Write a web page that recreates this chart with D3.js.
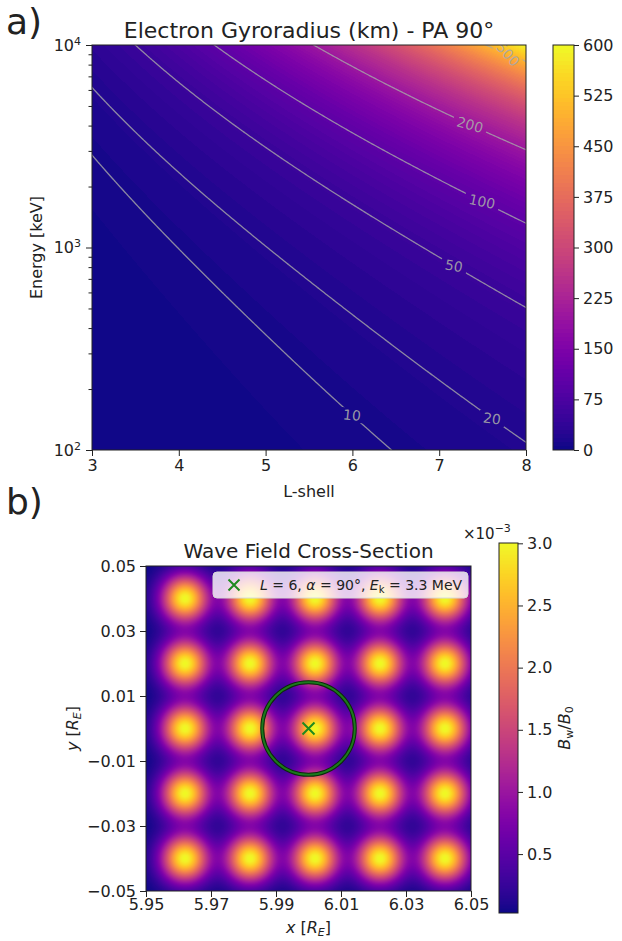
<!DOCTYPE html>
<html>
<head>
<meta charset="utf-8">
<script src="https://cdn.jsdelivr.net/npm/d3@7"></script>
<style>
  body { margin: 0; background: #fff; }
  svg text { font-family: "DejaVu Sans", sans-serif; fill: #222; }
</style>
</head>
<body>
<svg id="fig" width="622" height="941"></svg>
<script>
// ---- panel a data ----
var lShellRange = [3, 8];
var energyRange = [100, 10000];          // keV
var contourLevels = [10, 20, 50, 100, 200, 500];   // km
var lShellTicks = [3, 4, 5, 6, 7, 8];
var energyTicks = [100, 1000, 10000];
var gyroTicks = [0, 75, 150, 225, 300, 375, 450, 525, 600];
var gyroBandStep = 6;                      // contourf level spacing (km)

// dipole field + electron constants used for the gyroradius map
var B0 = 3.0e-5;        // T, equatorial surface field
var cLight = 2.998e8;   // m/s
var mec2 = 0.511;       // MeV
var earthRadiusKm = 6371;

// ---- panel b data ----
var blobX = [5.962, 5.982, 6.002, 6.022, 6.042];
var blobY = [-0.04, -0.02, 0, 0.02, 0.04];
var blobAmp = 3.0e-3;
var blobWidth = 0.005;
var waveXTicks = [5.95, 5.97, 5.99, 6.01, 6.03, 6.05];
var waveYTicks = [-0.05, -0.03, -0.01, 0.01, 0.03, 0.05];
var waveCbarTicks = [0.5, 1.0, 1.5, 2.0, 2.5, 3.0];   // x1e-3
var particleL = 6;
var particlePitch = 90;
var particleEnergyMeV = 3.3;

// label placement along each contour (L value) and text angle
var labelAtL = [6.0, 7.6, 7.18, 7.49, 7.35, 7.8];
var labelRot = [6, 8, 10, 12, 16, 48];

function gyroKm(L, EkeV) {
  var E = EkeV / 1000;
  var pc = Math.sqrt(E * E + 2 * E * mec2);           // MeV
  var B = B0 / Math.pow(L, 3);
  return pc * 1e6 / (cLight * B) / 1000;
}
function waveField(x, y) {
  var s = 0;
  blobX.forEach(function (bx) {
    blobY.forEach(function (by) {
      var dx = x - bx, dy = y - by;
      s += Math.exp(-(dx * dx + dy * dy) / (2 * blobWidth * blobWidth));
    });
  });
  return blobAmp * s;
}

var svg = d3.select("#fig");

function raster(g, x0, y0, w, h, colorAt) {
  var cv = document.createElement("canvas");
  cv.width = w; cv.height = h;
  var ctx = cv.getContext("2d");
  var img = ctx.createImageData(w, h);
  for (var j = 0; j < h; j++) {
    for (var i = 0; i < w; i++) {
      var c = colorAt(x0 + i + 0.5, y0 + j + 0.5);
      var k = (j * w + i) * 4;
      img.data[k] = c.r; img.data[k + 1] = c.g; img.data[k + 2] = c.b; img.data[k + 3] = 255;
    }
  }
  ctx.putImageData(img, 0, 0);
  g.append("image")
    .attr("x", x0).attr("y", y0).attr("width", w).attr("height", h)
    .attr("preserveAspectRatio", "none")
    .attr("href", cv.toDataURL());
}

function styleAxis(g) {
  g.select(".domain").remove();
  g.selectAll(".tick line").attr("stroke", "#222");
  g.selectAll(".tick text").attr("font-size", 16).attr("font-family", "DejaVu Sans").attr("fill", "#222");
}

// ================= panel a =================
var pa = {left: 92, right: 526, top: 45, bottom: 450};
var xA = d3.scaleLinear().domain(lShellRange).range([pa.left, pa.right]);
var yA = d3.scaleLog().domain(energyRange).range([pa.bottom, pa.top]);
var cA = d3.scaleSequential(d3.interpolatePlasma).domain([gyroTicks[0], gyroTicks[gyroTicks.length - 1]]);

var nBands = Math.round((gyroTicks[gyroTicks.length - 1] - gyroTicks[0]) / gyroBandStep);
var bandColors = d3.range(nBands).map(function (b) {
  return d3.rgb(cA(gyroTicks[0] + (b + 0.5) * gyroBandStep));
});
function bandColor(v) {
  var b = Math.floor((v - gyroTicks[0]) / gyroBandStep);
  return bandColors[Math.max(0, Math.min(nBands - 1, b))];
}

var gA = svg.append("g");
raster(gA, pa.left, pa.top, pa.right - pa.left, pa.bottom - pa.top, function (px, py) {
  return bandColor(gyroKm(xA.invert(px), yA.invert(py)));
});

// contour lines through d3.contours on a padded pixel grid
var step = 2, pad = 6;
var gx0 = pa.left - pad, gy0 = pa.top - pad;
var nx = Math.ceil((pa.right - pa.left + 2 * pad) / step) + 1;
var ny = Math.ceil((pa.bottom - pa.top + 2 * pad) / step) + 1;
var grid = new Array(nx * ny);
for (var j = 0; j < ny; j++) for (var i = 0; i < nx; i++) {
  grid[j * nx + i] = gyroKm(xA.invert(gx0 + i * step), yA.invert(gy0 + j * step));
}
var contours = d3.contours().size([nx, ny]).thresholds(contourLevels)(grid);
function gxPix(c) { return gx0 + (c - 0.5) * step; }
function gyPix(c) { return gy0 + (c - 0.5) * step; }
var gridPath = d3.geoPath(d3.geoTransform({
  point: function (x, y) { this.stream.point(gxPix(x), gyPix(y)); }
}));

var defs = svg.append("defs");
defs.append("clipPath").attr("id", "clipA").append("rect")
  .attr("x", pa.left).attr("y", pa.top).attr("width", pa.right - pa.left).attr("height", pa.bottom - pa.top);
var mask = defs.append("mask").attr("id", "lblMask").attr("maskUnits", "userSpaceOnUse")
  .attr("x", 0).attr("y", 0).attr("width", 622).attr("height", 941);
mask.append("rect").attr("width", 622).attr("height", 941).attr("fill", "white");

var labelFs = 14;
var labels = contours.map(function (c, k) {
  var target = xA(labelAtL[k]), best = null;
  c.coordinates.forEach(function (poly) {
    poly.forEach(function (ring) {
      ring.forEach(function (p) {
        var px = gxPix(p[0]), py = gyPix(p[1]);
        if (py < pa.top || py > pa.bottom || px < pa.left || px > pa.right) return;
        var d = Math.abs(px - target);
        if (!best || d < best.d) best = {d: d, x: px, y: py};
      });
    });
  });
  return {text: String(c.value), x: best.x, y: best.y, rot: labelRot[k]};
});
labels.forEach(function (l) {
  mask.append("rect")
    .attr("x", -l.text.length * 0.64 * labelFs / 2 - 4).attr("y", -labelFs / 2)
    .attr("width", l.text.length * 0.64 * labelFs + 8).attr("height", labelFs)
    .attr("fill", "black")
    .attr("transform", "translate(" + l.x + "," + l.y + ") rotate(" + l.rot + ")");
});

var gC = gA.append("g").attr("clip-path", "url(#clipA)");
gC.append("g").attr("mask", "url(#lblMask)")
  .selectAll("path").data(contours).enter().append("path")
  .attr("d", gridPath)
  .attr("fill", "none")
  .attr("stroke", "#a8a8a8").attr("stroke-opacity", 0.8).attr("stroke-width", 1.3);
gC.selectAll("text.clabel").data(labels).enter().append("text")
  .attr("class", "clabel")
  .attr("transform", function (l) { return "translate(" + l.x + "," + l.y + ") rotate(" + l.rot + ")"; })
  .attr("text-anchor", "middle").attr("dy", "0.36em")
  .attr("font-size", labelFs)
  .style("fill", "#a8a8a8").style("fill-opacity", 0.9)
  .text(function (l) { return l.text; });

gA.append("rect")
  .attr("x", pa.left).attr("y", pa.top).attr("width", pa.right - pa.left).attr("height", pa.bottom - pa.top)
  .attr("fill", "none").attr("stroke", "#222").attr("stroke-width", 1);

var axA = gA.append("g").attr("transform", "translate(0," + pa.bottom + ")")
  .call(d3.axisBottom(xA).tickValues(lShellTicks).tickSize(6).tickPadding(4).tickFormat(d3.format("d")));
styleAxis(axA);

var ayA = gA.append("g").attr("transform", "translate(" + pa.left + ",0)")
  .call(d3.axisLeft(yA).tickValues(energyTicks).tickSize(6).tickPadding(5).tickFormat(""));
styleAxis(ayA);
ayA.selectAll(".tick text").each(function (d) {
  var t = d3.select(this).attr("dy", "0.32em");
  t.append("tspan").text("10");
  t.append("tspan").attr("dy", "-0.55em").attr("font-size", 11).text(Math.round(Math.log10(d)));
});
var minorE = [];
[100, 1000].forEach(function (dec) { for (var m = 2; m <= 9; m++) minorE.push(dec * m); });
var ayAm = gA.append("g").attr("transform", "translate(" + pa.left + ",0)")
  .call(d3.axisLeft(yA).tickValues(minorE).tickSize(3.5).tickFormat(""));
styleAxis(ayAm);

gA.append("text").attr("x", (pa.left + pa.right) / 2).attr("y", 38)
  .attr("text-anchor", "middle").attr("font-size", 22)
  .text("Electron Gyroradius (km) - PA 90°");
gA.append("text").attr("x", (pa.left + pa.right) / 2).attr("y", 497)
  .attr("text-anchor", "middle").attr("font-size", 16).text("L-shell");
gA.append("text").attr("transform", "translate(42," + (pa.top + pa.bottom) / 2 + ") rotate(-90)")
  .attr("text-anchor", "middle").attr("font-size", 16).text("Energy [keV]");
gA.append("text").attr("x", 6).attr("y", 34).attr("font-size", 36).text("a)");

// colorbar a
var cbA = {left: 553, right: 574, top: 45, bottom: 450};
var yCbA = d3.scaleLinear().domain(cA.domain()).range([cbA.bottom, cbA.top]);
raster(gA, cbA.left, cbA.top, cbA.right - cbA.left, cbA.bottom - cbA.top, function (px, py) {
  return bandColor(yCbA.invert(py));
});
gA.append("rect").attr("x", cbA.left).attr("y", cbA.top)
  .attr("width", cbA.right - cbA.left).attr("height", cbA.bottom - cbA.top)
  .attr("fill", "none").attr("stroke", "#222").attr("stroke-width", 1);
var acbA = gA.append("g").attr("transform", "translate(" + cbA.right + ",0)")
  .call(d3.axisRight(yCbA).tickValues(gyroTicks).tickSize(5).tickPadding(4).tickFormat(d3.format("d")));
styleAxis(acbA);

// ================= panel b =================
var pb = {left: 146, right: 471, top: 566, bottom: 891};
var xB = d3.scaleLinear().domain([waveXTicks[0], waveXTicks[waveXTicks.length - 1]]).range([pb.left, pb.right]);
var yB = d3.scaleLinear().domain([waveYTicks[0], waveYTicks[waveYTicks.length - 1]]).range([pb.bottom, pb.top]);

var wmin = Infinity, wmax = -Infinity;
for (var py = pb.top; py < pb.bottom; py++) for (var px = pb.left; px < pb.right; px++) {
  var v = waveField(xB.invert(px + 0.5), yB.invert(py + 0.5));
  if (v < wmin) wmin = v;
  if (v > wmax) wmax = v;
}
var lutB = d3.range(256).map(function (k) { return d3.rgb(d3.interpolatePlasma(k / 255)); });
function colorB(v) {
  var t = (v - wmin) / (wmax - wmin);
  return lutB[Math.max(0, Math.min(255, Math.round(t * 255)))];
}

var gB = svg.append("g");
raster(gB, pb.left, pb.top, pb.right - pb.left, pb.bottom - pb.top, function (px, py) {
  return colorB(waveField(xB.invert(px), yB.invert(py)));
});

// gyro-orbit of the test particle
var rhoRE = gyroKm(particleL, particleEnergyMeV * 1000) / earthRadiusKm;
var cx = xB(particleL), cy = yB(0), rPix = xB(particleL + rhoRE) - xB(particleL);
gB.append("circle").attr("cx", cx).attr("cy", cy).attr("r", rPix)
  .attr("fill", "none").attr("stroke", "#0b2a0b").attr("stroke-width", 4);
gB.append("circle").attr("cx", cx).attr("cy", cy).attr("r", rPix)
  .attr("fill", "none").attr("stroke", "#1c7a1c").attr("stroke-width", 2);

function xMarker(g, x, y, s) {
  g.append("path")
    .attr("d", "M" + (x - s) + "," + (y - s) + "L" + (x + s) + "," + (y + s) + "M" + (x - s) + "," + (y + s) + "L" + (x + s) + "," + (y - s))
    .attr("stroke", "#1f8a1f").attr("stroke-width", 2).attr("fill", "none");
}
xMarker(gB, cx, cy, 6);

gB.append("rect")
  .attr("x", pb.left).attr("y", pb.top).attr("width", pb.right - pb.left).attr("height", pb.bottom - pb.top)
  .attr("fill", "none").attr("stroke", "#222").attr("stroke-width", 1);

var axB = gB.append("g").attr("transform", "translate(0," + pb.bottom + ")")
  .call(d3.axisBottom(xB).tickValues(waveXTicks).tickSize(6).tickPadding(2).tickFormat(d3.format(".2f")));
styleAxis(axB);
var ayB = gB.append("g").attr("transform", "translate(" + pb.left + ",0)")
  .call(d3.axisLeft(yB).tickValues(waveYTicks).tickSize(6).tickPadding(4)
    .tickFormat(function (d) { return d3.format(".2f")(d).replace("-", "\u2212"); }));
styleAxis(ayB);

// legend
var lg = gB.append("g");
lg.append("rect").attr("x", 213).attr("y", 572).attr("width", 255).attr("height", 26).attr("rx", 4)
  .attr("fill", "#fff").attr("fill-opacity", 0.8).attr("stroke", "#d8d8d8").attr("stroke-width", 1);
xMarker(lg, 234, 585, 5.5);
var lt = lg.append("text").attr("x", 260).attr("y", 590).attr("font-size", 14);
lt.append("tspan").attr("font-style", "italic").text("L");
lt.append("tspan").text(" = " + particleL + ", ");
lt.append("tspan").attr("font-style", "italic").text("α");
lt.append("tspan").text(" = " + particlePitch + "°, ");
lt.append("tspan").attr("font-style", "italic").text("E");
lt.append("tspan").attr("font-size", 10).attr("dy", 3).text("k");
lt.append("tspan").attr("dy", -3).text(" = " + particleEnergyMeV + " MeV");

gB.append("text").attr("x", (pb.left + pb.right) / 2).attr("y", 558)
  .attr("text-anchor", "middle").attr("font-size", 20).text("Wave Field Cross-Section");
var xl = gB.append("text").attr("x", (pb.left + pb.right) / 2).attr("y", 933)
  .attr("text-anchor", "middle").attr("font-size", 16);
xl.append("tspan").attr("font-style", "italic").text("x");
xl.append("tspan").text(" [");
xl.append("tspan").attr("font-style", "italic").text("R");
xl.append("tspan").attr("font-style", "italic").attr("font-size", 11).attr("dy", 3).text("E");
xl.append("tspan").attr("dy", -3).text("]");
var yl = gB.append("text").attr("transform", "translate(78," + (pb.top + pb.bottom) / 2 + ") rotate(-90)")
  .attr("text-anchor", "middle").attr("font-size", 16);
yl.append("tspan").attr("font-style", "italic").text("y");
yl.append("tspan").text(" [");
yl.append("tspan").attr("font-style", "italic").text("R");
yl.append("tspan").attr("font-style", "italic").attr("font-size", 11).attr("dy", 3).text("E");
yl.append("tspan").attr("dy", -3).text("]");
gB.append("text").attr("x", 6).attr("y", 514).attr("font-size", 36).text("b)");

// colorbar b
var cbB = {left: 499, right: 518, top: 543, bottom: 913};
var yCbB = d3.scaleLinear().domain([wmin * 1e3, wmax * 1e3]).range([cbB.bottom, cbB.top]);
raster(gB, cbB.left, cbB.top, cbB.right - cbB.left, cbB.bottom - cbB.top, function (px, py) {
  return colorB(yCbB.invert(py) / 1e3);
});
gB.append("rect").attr("x", cbB.left).attr("y", cbB.top)
  .attr("width", cbB.right - cbB.left).attr("height", cbB.bottom - cbB.top)
  .attr("fill", "none").attr("stroke", "#222").attr("stroke-width", 1);
var acbB = gB.append("g").attr("transform", "translate(" + cbB.right + ",0)")
  .call(d3.axisRight(yCbB).tickValues(waveCbarTicks).tickSize(5).tickPadding(4).tickFormat(d3.format(".1f")));
styleAxis(acbB);
var off = gB.append("text").attr("x", 463).attr("y", 539).attr("font-size", 15);
off.append("tspan").text("×10");
off.append("tspan").attr("dy", -7).attr("font-size", 11).text("\u22123");
var cl = gB.append("text").attr("transform", "translate(570," + (cbB.top + cbB.bottom) / 2 + ") rotate(-90)")
  .attr("text-anchor", "middle").attr("font-size", 16);
cl.append("tspan").attr("font-style", "italic").text("B");
cl.append("tspan").attr("font-size", 11).attr("dy", 3).text("w");
cl.append("tspan").attr("dy", -3).text("/");
cl.append("tspan").attr("font-style", "italic").text("B");
cl.append("tspan").attr("font-size", 11).attr("dy", 3).text("0");
</script>
</body>
</html>
